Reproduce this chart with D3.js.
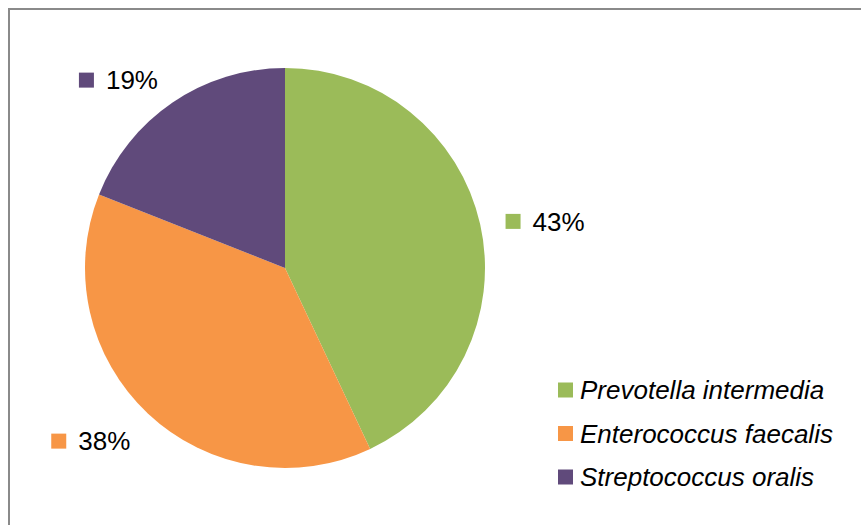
<!DOCTYPE html>
<html>
<head>
<meta charset="utf-8">
<script src="https://cdn.jsdelivr.net/npm/d3@7"></script>
<style>
  html, body { margin: 0; padding: 0; background: #fff; }
  svg { display: block; }
  text { font-family: "Liberation Sans", Arial, sans-serif; fill: #000; }
</style>
</head>
<body>
<svg id="chart" width="861" height="525"></svg>
<script>
// Share of isolates by species (percent)
const species = ["Prevotella intermedia", "Enterococcus faecalis", "Streptococcus oralis"];
const shares = [43, 38, 19];
const colors = ["#9BBB59", "#F79646", "#604A7B"];

const W = 861, H = 525;
const svg = d3.select("#chart");

// outer frame (runs off the right and bottom edges)
svg.append("rect")
  .attr("x", 9).attr("y", 9)
  .attr("width", W + 20).attr("height", H + 20)
  .attr("fill", "none")
  .attr("stroke", "#8a8a8a")
  .attr("stroke-width", 2);

const cx = 285, cy = 268, r = 200;
const data = species.map((s, i) => ({ name: s, value: shares[i], color: colors[i] }));

const pie = d3.pie().sort(null).value(d => d.value);
const arcs = pie(data);
const arc = d3.arc().innerRadius(0).outerRadius(r);

const g = svg.append("g").attr("transform", `translate(${cx},${cy})`);
g.selectAll("path.slice")
  .data(arcs)
  .join("path")
  .attr("class", "slice")
  .attr("d", arc)
  .attr("fill", d => d.data.color);

// data labels outside the pie: colour key + percentage
const fmt = d3.format(".0%");
const labelR = 226, keySize = 15, keyGap = 12, fontSize = 26;
const labels = g.selectAll("g.label")
  .data(arcs)
  .join("g")
  .attr("class", "label");

labels.each(function (d) {
  const sel = d3.select(this);
  const text = sel.append("text")
    .attr("font-size", fontSize)
    .text(fmt(d.data.value / 100));
  const tw = text.node().getComputedTextLength();
  const bw = keySize + keyGap + tw;
  const mid = (d.startAngle + d.endAngle) / 2;
  const ax = Math.sin(mid) * labelR, ay = -Math.cos(mid) * labelR;
  const left = Math.sin(mid) >= 0 ? ax : ax - bw;
  // vertical centre of the label, pushed away from the rim
  const yc = ay + 4 - 6 * Math.cos(mid);
  sel.append("rect")
    .attr("x", left).attr("y", yc - keySize / 2)
    .attr("width", keySize).attr("height", keySize)
    .attr("fill", d.data.color);
  text.attr("x", left + keySize + keyGap)
    .attr("y", yc)
    .attr("dy", "0.36em");
});

// legend
const legend = svg.append("g").attr("transform", "translate(558,390)");
const rowH = 43.5;
const items = legend.selectAll("g")
  .data(data)
  .join("g")
  .attr("transform", (d, i) => `translate(0,${i * rowH})`);
items.append("rect")
  .attr("x", 0).attr("y", -7.5)
  .attr("width", 15).attr("height", 15)
  .attr("fill", d => d.color);
items.append("text")
  .attr("x", 22)
  .attr("dy", "0.36em")
  .attr("font-size", fontSize)
  .attr("font-style", "italic")
  .text(d => d.name);
</script>
</body>
</html>
